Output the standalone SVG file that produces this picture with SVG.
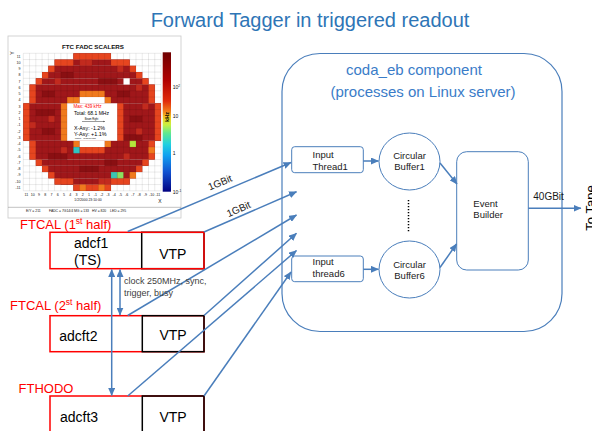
<svg xmlns="http://www.w3.org/2000/svg" width="592" height="431" viewBox="0 0 592 431">
<defs>
<style>
.t{font-family:"Liberation Sans",Arial,sans-serif}
.conn{stroke:#4a7ebb;stroke-width:1.5;fill:none}
.node{fill:#fff;stroke:#4a7ebb;stroke-width:1}
.sm{font-size:9.5px;fill:#1a1a1a}
.red{fill:#ff0000;font-size:13px}
.bx{font-size:14px;fill:#000}
.rl{font-size:3.6px;fill:#111;text-anchor:end}
.cl{font-size:3.6px;fill:#111;text-anchor:middle}
.tiny{font-size:3.4px;fill:#111}
.base{fill:#a0171a}
.m{fill:#c22a1e}
.d{fill:#8a0f12}
.e{fill:#e6451f}
.o{fill:#f07a1e}
</style>
<marker id="ah" viewBox="0 0 8 7" refX="7.5" refY="3.5" markerWidth="8" markerHeight="7" markerUnits="userSpaceOnUse" orient="auto-start-reverse"><path d="M0,0 L8,3.5 L0,7 z" fill="#4a7ebb"/></marker>
<linearGradient id="pal" x1="0" y1="0" x2="0" y2="1">
<stop offset="0" stop-color="#6e0000"/>
<stop offset="0.2" stop-color="#b00000"/>
<stop offset="0.35" stop-color="#e02a0a"/>
<stop offset="0.42" stop-color="#f07818"/>
<stop offset="0.47" stop-color="#f0d020"/>
<stop offset="0.52" stop-color="#c8f040"/>
<stop offset="0.58" stop-color="#60e890"/>
<stop offset="0.66" stop-color="#20d0e0"/>
<stop offset="0.74" stop-color="#10a0f0"/>
<stop offset="0.86" stop-color="#1050d0"/>
<stop offset="1" stop-color="#000080"/>
</linearGradient>
</defs>
<rect width="592" height="431" fill="#fff"/>

<text class="t" x="310" y="27" text-anchor="middle" font-size="20" fill="#2e75b6">Forward Tagger in triggered readout</text>

<g id="heatmap" class="t">
<rect x="8" y="36" width="173" height="182" fill="#fff" stroke="#c8c8c8" stroke-width="0.8"/>
<line x1="8" y1="207.3" x2="181" y2="207.3" stroke="#999" stroke-width="0.6"/>
<text x="93" y="48.5" text-anchor="middle" font-size="6.2" font-weight="bold" fill="#111">FTC FADC SCALERS</text>
<g transform="translate(23.3,53.3) scale(6.26,6.25)">
<g class="base">
<rect x="8" y="0" width="6" height="1"/>
<rect x="5" y="1" width="12" height="1"/>
<rect x="4" y="2" width="14" height="1"/>
<rect x="3" y="3" width="16" height="1"/>
<rect x="2" y="4" width="18" height="1"/>
<rect x="1" y="5" width="20" height="3"/>
<rect x="0" y="8" width="22" height="6"/>
<rect x="1" y="14" width="20" height="3"/>
<rect x="2" y="17" width="18" height="1"/>
<rect x="3" y="18" width="16" height="1"/>
<rect x="4" y="19" width="14" height="1"/>
<rect x="5" y="20" width="12" height="1"/>
<rect x="8" y="21" width="6" height="1"/>
</g>
<g class="d">
<rect x="6" y="3" width="2" height="1"/><rect x="12" y="4" width="3" height="1"/>
<rect x="3" y="6" width="2" height="1"/><rect x="15" y="6" width="2" height="1"/>
<rect x="2" y="9" width="3" height="1"/><rect x="17" y="10" width="2" height="1"/>
<rect x="3" y="12" width="2" height="1"/><rect x="16" y="13" width="3" height="1"/>
<rect x="4" y="16" width="3" height="1"/><rect x="13" y="17" width="2" height="1"/>
<rect x="9" y="18" width="3" height="1"/><rect x="6" y="20" width="2" height="1"/>
</g>
<g class="m">
<rect x="9" y="1" width="2" height="1"/><rect x="15" y="2" width="1" height="1"/>
<rect x="5" y="4" width="1" height="1"/><rect x="18" y="5" width="1" height="1"/>
<rect x="4" y="10" width="1" height="1"/><rect x="19" y="8" width="1" height="1"/>
<rect x="1" y="11" width="1" height="1"/><rect x="18" y="12" width="1" height="1"/>
<rect x="6" y="15" width="1" height="1"/><rect x="16" y="16" width="1" height="1"/>
<rect x="10" y="15" width="2" height="1"/><rect x="12" y="20" width="2" height="1"/>
</g>
<g class="e">
<rect x="8" y="0" width="6" height="1"/>
<rect x="5" y="1" width="3" height="1"/><rect x="14" y="1" width="3" height="1"/>
<rect x="4" y="2" width="1" height="1"/><rect x="17" y="2" width="1" height="1"/>
<rect x="3" y="3" width="1" height="1"/><rect x="18" y="3" width="1" height="1"/>
<rect x="2" y="4" width="1" height="1"/><rect x="19" y="4" width="1" height="1"/>
<rect x="1" y="5" width="1" height="3"/><rect x="20" y="5" width="1" height="3"/>
<rect x="0" y="8" width="1" height="6"/><rect x="21" y="8" width="1" height="6"/>
<rect x="1" y="14" width="1" height="3"/><rect x="20" y="14" width="1" height="3"/>
<rect x="2" y="17" width="1" height="1"/><rect x="19" y="17" width="1" height="1"/>
<rect x="3" y="18" width="1" height="1"/><rect x="18" y="18" width="1" height="1"/>
<rect x="4" y="19" width="1" height="1"/><rect x="17" y="19" width="1" height="1"/>
<rect x="5" y="20" width="3" height="1"/><rect x="14" y="20" width="3" height="1"/>
<rect x="8" y="21" width="6" height="1"/>
<rect x="15" y="8" width="1" height="6"/><rect x="9" y="15" width="4" height="1"/>
</g>
<g class="o">
<rect x="9" y="6" width="4" height="1"/>
<rect x="7" y="7" width="2" height="1"/><rect x="13" y="7" width="1" height="1"/>
<rect x="6" y="8" width="1" height="6"/>
<rect x="8" y="14" width="1" height="1"/><rect x="13" y="14" width="1" height="1"/>
<rect x="20" y="15" width="1" height="1"/><rect x="17" y="19" width="1" height="1"/>
<rect x="9" y="21" width="1" height="1"/><rect x="12" y="21" width="1" height="1"/>
</g>
<rect x="8" y="15" width="1" height="1" fill="#2ec4c4"/>
<rect x="17" y="14" width="1" height="1" fill="#b4e63c"/>
<rect x="14" y="19" width="1" height="1" fill="#3cc4b4"/>
<rect x="15" y="19" width="1" height="1" fill="#8ce060"/>
<path fill="none" stroke="#000" stroke-opacity="0.2" stroke-width="0.4" vector-effect="non-scaling-stroke" d="M0 0V22M1 0V22M2 0V22M3 0V22M4 0V22M5 0V22M6 0V22M7 0V22M8 0V22M9 0V22M10 0V22M11 0V22M12 0V22M13 0V22M14 0V22M15 0V22M16 0V22M17 0V22M18 0V22M19 0V22M20 0V22M21 0V22M22 0V22M0 0H22M0 1H22M0 2H22M0 3H22M0 4H22M0 5H22M0 6H22M0 7H22M0 8H22M0 9H22M0 10H22M0 11H22M0 12H22M0 13H22M0 14H22M0 15H22M0 16H22M0 17H22M0 18H22M0 19H22M0 20H22M0 21H22M0 22H22"/>
<g fill="#fff">
<rect x="9" y="7" width="4" height="1"/>
<rect x="7" y="8" width="8" height="6"/>
<rect x="9" y="14" width="4" height="1"/>
<rect x="16" y="4" width="1" height="1"/>
</g>
</g>
<text x="73.5" y="108.3" font-size="4.6" fill="#ff0000" textLength="28" lengthAdjust="spacingAndGlyphs">Max:  439 kHz</text>
<text x="74" y="114.6" font-size="5.2" fill="#000" textLength="35" lengthAdjust="spacingAndGlyphs">Total:  68.1 MHz</text>
<text x="91.5" y="120" text-anchor="middle" font-size="2.6" fill="#000">Beam Right</text>
<line x1="82" y1="121.5" x2="103.5" y2="121.5" stroke="#000" stroke-width="0.4"/>
<path d="M103.5 120.7 L105 121.5 L103.5 122.3z" fill="#000"/>
<text x="74" y="129.5" font-size="5" fill="#000" textLength="31" lengthAdjust="spacingAndGlyphs">X-Asy:  -1.2%</text>
<text x="74" y="135.8" font-size="5" fill="#000" textLength="32.5" lengthAdjust="spacingAndGlyphs">Y-Asy:  +1.1%</text>
<text x="75" y="138.6" font-size="1.9" fill="#000">positive = beam top right</text>
<g class="rl">
<text x="20.5" y="57.7">11</text><text x="20.5" y="63.95">10</text><text x="20.5" y="70.2">9</text><text x="20.5" y="76.45">8</text><text x="20.5" y="82.7">7</text><text x="20.5" y="88.95">6</text><text x="20.5" y="95.2">5</text><text x="20.5" y="101.45">4</text><text x="20.5" y="107.7">3</text><text x="20.5" y="113.95">2</text><text x="20.5" y="120.2">1</text><text x="20.5" y="126.45">-1</text><text x="20.5" y="132.7">-2</text><text x="20.5" y="138.95">-3</text><text x="20.5" y="145.2">-4</text><text x="20.5" y="151.45">-5</text><text x="20.5" y="157.7">-6</text><text x="20.5" y="163.95">-7</text><text x="20.5" y="170.2">-8</text><text x="20.5" y="176.45">-9</text><text x="20.5" y="182.7">-10</text><text x="20.5" y="188.95">-11</text>
</g>
<g class="cl">
<text x="26.43" y="195.5">11</text><text x="32.69" y="195.5">10</text><text x="38.95" y="195.5">9</text><text x="45.21" y="195.5">8</text><text x="51.47" y="195.5">7</text><text x="57.73" y="195.5">6</text><text x="63.99" y="195.5">5</text><text x="70.25" y="195.5">4</text><text x="76.51" y="195.5">3</text><text x="82.77" y="195.5">2</text><text x="89.03" y="195.5">1</text><text x="95.29" y="195.5">-1</text><text x="101.55" y="195.5">-2</text><text x="107.81" y="195.5">-3</text><text x="114.07" y="195.5">-4</text><text x="120.33" y="195.5">-5</text><text x="126.59" y="195.5">-6</text><text x="132.85" y="195.5">-7</text><text x="139.11" y="195.5">-8</text><text x="145.37" y="195.5">-9</text><text x="151.63" y="195.5">-10</text><text x="157.89" y="195.5">-11</text>
</g>
<text x="160" y="202.5" font-size="5" fill="#111" text-anchor="middle">X</text>
<text x="15.5" y="54.5" font-size="5" fill="#111" text-anchor="middle" transform="rotate(-90 14 54.5)">Y</text>
<text x="88" y="200.5" class="tiny" text-anchor="middle">1/2/2000 23:10:00</text>
<rect x="162.7" y="52.3" width="8.3" height="139.4" fill="url(#pal)"/>
<g font-size="5" fill="#111">
<text x="172.8" y="89">10<tspan font-size="3.2" dy="-2">2</tspan></text>
<text x="172.8" y="117.5">10</text>
<text x="172.8" y="155">1</text>
<text x="172.8" y="193.5">10<tspan font-size="3.2" dy="-2">-1</tspan></text>
</g>
<text x="166.8" y="119" font-size="5.5" font-weight="bold" fill="#000" text-anchor="middle" transform="rotate(-90 166.8 117)">kHz</text>
<g class="tiny">
<text x="26" y="211.8">E/Y = 211</text>
<text x="49" y="211.8">FADC = 7G14/4</text>
<text x="74" y="211.8">MG = 133</text>
<text x="92" y="211.8">HV = 820</text>
<text x="110" y="211.8">LED = 295</text>
</g>
</g>

<g id="coda_eb" class="t">
<rect x="282" y="53.5" width="280" height="278" rx="38" ry="38" fill="none" stroke="#4a7ebb" stroke-width="1.2"/>
<text x="414" y="75" text-anchor="middle" font-size="15" fill="#3a7cc8">coda_eb component</text>
<text x="423" y="97" text-anchor="middle" font-size="15" fill="#3a7cc8">(processes on Linux server)</text>
</g>

<g id="input_thread1" class="t">
<rect class="node" x="291.7" y="146.7" width="71.6" height="26" rx="3"/>
<text class="sm" x="312.5" y="157.5">Input</text>
<text class="sm" x="312.5" y="169.5">Thread1</text>
</g>
<g id="input_thread6" class="t">
<rect class="node" x="291.7" y="256" width="71.6" height="25.7" rx="3"/>
<text class="sm" x="312.5" y="264.8">Input</text>
<text class="sm" x="312.5" y="277">thread6</text>
</g>
<g id="buffer1" class="t">
<ellipse class="node" cx="409.5" cy="161.5" rx="30.5" ry="28.5"/>
<text class="sm" x="409.5" y="158.5" text-anchor="middle">Circular</text>
<text class="sm" x="409.5" y="170" text-anchor="middle">Buffer1</text>
</g>
<g id="buffer6" class="t">
<ellipse class="node" cx="409.5" cy="269.5" rx="30.5" ry="28.5"/>
<text class="sm" x="409.5" y="267.7" text-anchor="middle">Circular</text>
<text class="sm" x="409.5" y="279.3" text-anchor="middle">Buffer6</text>
</g>
<line id="dots" x1="408.5" y1="200" x2="408.5" y2="233" stroke="#000" stroke-width="1.5" stroke-dasharray="1.2 1.8"/>
<g id="event_builder" class="t">
<rect class="node" x="456.7" y="151.7" width="71.6" height="118.3" rx="10"/>
<text class="sm" x="473.3" y="206.7">Event</text>
<text class="sm" x="473.3" y="218.3">Builder</text>
</g>
<text id="to_tape" class="t" x="595" y="208" font-size="13" fill="#000" text-anchor="middle" transform="rotate(-90 595 208)">To Tape</text>

<g id="adcf1" class="t">
<text class="red" x="20" y="229">FTCAL (1<tspan font-size="8.5" dy="-5">st</tspan><tspan dy="5"> half)</tspan></text>
<rect x="141.7" y="232.3" width="62.3" height="36.4" fill="#fff" stroke="#000" stroke-width="1.5"/>
<rect x="50" y="232.3" width="154" height="36.4" fill="none" stroke="#ff0000" stroke-width="1.5"/>
<text class="bx" x="74" y="247.5">adcf1</text>
<text class="bx" x="74" y="265">(TS)</text>
<text class="bx" x="172.8" y="258.5" text-anchor="middle">VTP</text>
</g>
<g id="adcft2" class="t">
<text class="red" x="10" y="310">FTCAL (2<tspan font-size="8.5" dy="-5">st</tspan><tspan dy="5"> half)</tspan></text>
<rect x="50" y="315.7" width="154" height="36" fill="#fff" stroke="#ff0000" stroke-width="1.5"/>
<rect x="142.3" y="315.7" width="61.7" height="36" fill="none" stroke="#000" stroke-width="1.5"/>
<text class="bx" x="59.3" y="340.7">adcft2</text>
<text class="bx" x="173" y="339.5" text-anchor="middle">VTP</text>
</g>
<g id="adcft3" class="t">
<text class="red" x="18.5" y="393.3">FTHODO</text>
<rect x="50" y="396" width="154" height="40" fill="#fff" stroke="#ff0000" stroke-width="1.5"/>
<rect x="142.3" y="396" width="61.7" height="40" fill="none" stroke="#000" stroke-width="1.5"/>
<text class="bx" x="60" y="422.3">adcft3</text>
<text class="bx" x="173" y="421.7" text-anchor="middle">VTP</text>
</g>

<g id="connectors">
<line class="conn" x1="127.7" y1="231.5" x2="291" y2="162.5" marker-end="url(#ah)"/>
<line class="conn" x1="204" y1="232" x2="296.5" y2="191.7" marker-end="url(#ah)"/>
<line class="conn" x1="127.7" y1="315.5" x2="296.5" y2="215" marker-end="url(#ah)"/>
<line class="conn" x1="204" y1="315.5" x2="296.5" y2="233.3" marker-end="url(#ah)"/>
<line class="conn" x1="127.7" y1="396" x2="296.5" y2="250.5" marker-end="url(#ah)"/>
<line class="conn" x1="204" y1="396" x2="291" y2="272" marker-end="url(#ah)"/>
<line class="conn" x1="363.3" y1="161" x2="378.5" y2="161" marker-end="url(#ah)"/>
<line class="conn" x1="363.3" y1="269.3" x2="378.5" y2="269.3" marker-end="url(#ah)"/>
<line class="conn" x1="440" y1="163" x2="457" y2="184" marker-end="url(#ah)"/>
<line class="conn" x1="440" y1="267.5" x2="456.5" y2="244" marker-end="url(#ah)"/>
<line class="conn" x1="528.3" y1="208.3" x2="581" y2="208.3" marker-end="url(#ah)"/>
<line class="conn" x1="120" y1="269.5" x2="120" y2="315" marker-start="url(#ah)" marker-end="url(#ah)"/>
<line class="conn" x1="111.7" y1="269.5" x2="111.7" y2="395.5" marker-start="url(#ah)" marker-end="url(#ah)"/>
<g class="t" font-size="10" fill="#1a1a1a">
<text x="220" y="186" text-anchor="middle" transform="rotate(-23 220 182.5)">1GBit</text>
<text x="238.5" y="212.5" text-anchor="middle" transform="rotate(-23.5 238.5 209)">1GBit</text>
<text x="533.3" y="200">40GBit</text>
</g>
<g class="t" font-size="9" fill="#404040">
<text x="124" y="284">clock 250MHz, sync,</text>
<text x="124" y="296">trigger, busy</text>
</g>
</g>
</svg>
